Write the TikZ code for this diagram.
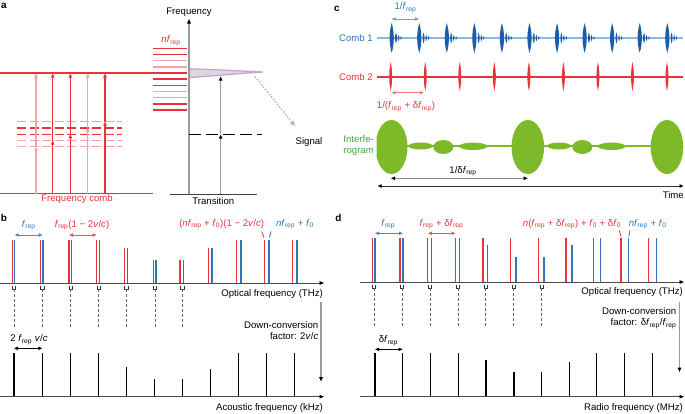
\documentclass[tikz,border=0pt]{standalone}
\usepackage{fontspec}
\setmainfont{Liberation Sans}
\usetikzlibrary{arrows.meta}
\definecolor{cred}{RGB}{232,51,60}
\definecolor{cpink}{RGB}{243,162,167}
\definecolor{cblue}{RGB}{47,117,188}
\definecolor{cdblue}{RGB}{28,93,168}
\definecolor{clblue}{RGB}{141,185,226}
\definecolor{cgreen}{RGB}{125,185,40}
\definecolor{ctgreen}{RGB}{61,170,58}
\definecolor{cgray}{RGB}{154,154,154}
\definecolor{cpurple}{RGB}{201,163,218}
\newcommand{\frep}{\textit{f}\textsubscript{rep}}
\newcommand{\fzero}{\textit{f}\textsubscript{0}}
\tikzset{
  lab/.style={inner sep=0pt, font=\fontsize{9.6}{10.8}\selectfont},
  plab/.style={inner sep=0pt, font=\fontsize{10}{12}\selectfont\bfseries},
  dtip/.style={{Triangle[length=4pt,width=3.2pt]}-{Triangle[length=4pt,width=3.2pt]}},
  axisln/.style={line width=0.9pt, draw=black!70, -{Triangle[length=4.5pt,width=3.6pt,color=black]}},
  spec/.style={line width=1.45pt},
  redln/.style={draw=cred, line width=1.4pt},
  pinkln/.style={draw=cpink, line width=1.4pt},
}
\begin{document}
\begin{tikzpicture}[x=1pt,y=-1pt]
\useasboundingbox (0,0) rectangle (685,413);
% ================= panel a =================
\foreach \y/\s in {121.7/pinkln,128/redln,134.3/redln,140.5/pinkln,146.7/pinkln}
  \draw[\s, dash pattern=on 9pt off 3.5pt] (17,\y) -- (122,\y);
\foreach \y/\s in {48.3/redln,54.5/redln,60.7/pinkln,66.9/pinkln,79.1/redln,85.3/redln,91.5/pinkln,97.7/pinkln,103.9/redln,110.1/redln}
  \draw[\s] (153,\y) -- (187,\y);
\draw[redln] (0,73) -- (187,73);
\draw[redln] (0,193.5) -- (153,193.5);
\foreach \x/\l/\s in {36/146.7/cpink,52.7/140.5/cred,70.3/134.3/cred,87.7/128/cpink,105/121.7/cred}{
  \draw[draw=\s, line width=1.2pt, -{Triangle[length=4pt,width=3.5pt,fill=\s]}] (\x,193.5) -- (\x,\l);
  \draw[draw=\s, line width=1.2pt, -{Triangle[length=4pt,width=3.5pt,fill=\s]}] (\x,\l) -- (\x,73.5);
}
\node[plab] (pa) at (4,6) {a};
\node[lab, text=cred] (fcomb) at (77,199.5) {Frequency comb};
\node[lab, text=cred] (nfrep) at (171,40.5) {\textit{nf}\textsubscript{rep}};
% signal lineshape
\draw[draw=cpurple, line width=1.3pt, fill=black!15] (189.5,68.8) .. controls (215,69.6) and (240,70.8) .. (263,72)
   .. controls (240,73.2) and (212,76.2) .. (189.5,77.5) -- cycle;
\draw[draw=cgray, line width=1.1pt, -{Triangle[length=4.5pt,width=3.6pt,color=black]}] (189,194) -- (189,19);
\draw[draw=black!75, line width=0.9pt] (170,194) -- (257,194);
\node[lab] (freqlab) at (189,12) {Frequency};
\node[lab] (translab) at (213.3,201.5) {Transition};
\draw[draw=black, line width=0.9pt, dash pattern=on 12pt off 5pt] (189,134.3) -- (262,134.3);
\draw[draw=cgray, line width=1.1pt, -{Triangle[length=4pt,width=3.4pt,color=black]}] (220.7,194) -- (220.7,134.6);
\draw[draw=cgray, line width=1.1pt, -{Triangle[length=4pt,width=3.4pt,color=black]}] (220.7,134.3) -- (220.7,76.5);
\coordinate (sigstart) at (255,76.5);
\node[lab] (signal) at (309,142) {Signal};
\draw[draw=cpurple, line width=1.3pt, dash pattern=on 1.6pt off 1.6pt, -{Triangle[length=5pt,width=4.5pt,fill=cpurple]}] (sigstart) -- (295,126);
% ================= panel c =================
\node[plab] (pc) at (337,9) {c};
\node[lab, text=cblue] (onefrep) at (405.5,7.5) {1/\frep};
\draw[draw=cblue!70, line width=1pt, dtip] (391.7,19) -- (419,19);
\node[lab, text=cblue, anchor=east] (comb1) at (373,38.5) {Comb 1};
\draw[draw=clblue, line width=1.2pt] (376.7,38) -- (683,38);
\foreach \i in {0,...,10}{
  \pgfmathsetmacro{\px}{391.7+27.56*\i}
  \fill[cdblue] (\px,23) .. controls (\px+2.8,33) and (\px+2.8,43) .. (\px,53) .. controls (\px-2.8,43) and (\px-2.8,33) .. cycle;
  \fill[cdblue] (\px+4.3,32.5) .. controls (\px+5.6,36) and (\px+5.6,40) .. (\px+4.3,43.5) .. controls (\px+3,40) and (\px+3,36) .. cycle;
  \fill[cdblue] (\px+6.9,34.5) .. controls (\px+8,36.5) and (\px+8,39.5) .. (\px+6.9,41.5) .. controls (\px+5.8,39.5) and (\px+5.8,36.5) .. cycle;
  \fill[cdblue] (\px+9.3,36) .. controls (\px+10.2,37) and (\px+10.2,39) .. (\px+9.3,40) .. controls (\px+8.4,39) and (\px+8.4,37) .. cycle;
}
\node[lab, text=cred, anchor=east] (comb2) at (373,77.3) {Comb 2};
\draw[draw=cred, line width=1.1pt] (376.7,77) -- (683,77);
\foreach \i in {0,...,8}{
  \pgfmathsetmacro{\px}{390.7+34.54*\i}
  \fill[cred] (\px,62) .. controls (\px+2,72) and (\px+2,81) .. (\px,91) .. controls (\px-2,81) and (\px-2,72) .. cycle;
}
\draw[draw=cred!65, line width=1pt, dtip] (391.5,92.7) -- (424,92.7);
\node[lab, text=cred] (onefdf) at (406,106.5) {1/(\frep\ + δ\frep)};
\node[lab, text=ctgreen, anchor=east, align=right] (interf) at (374,145.3) {Interfe-\\rogram};
\draw[draw=cgreen, line width=1.1pt] (377,146) -- (683,146);
\begin{scope}
  \clip (376.5,100) rectangle (690,200);
  \fill[cgreen] (391.5,147) ellipse [x radius=16, y radius=27];
\end{scope}
\fill[cgreen] (527.8,147) ellipse [x radius=16.3, y radius=27];
\fill[cgreen] (667,147) ellipse [x radius=16.3, y radius=27];
\fill[cgreen] (420.5,146) ellipse [x radius=12.2, y radius=3.5];
\fill[cgreen] (443.3,147) ellipse [x radius=10, y radius=7];
\fill[cgreen] (473.2,146.3) ellipse [x radius=14.2, y radius=3.7];
\fill[cgreen] (559,146) ellipse [x radius=11.7, y radius=3.5];
\fill[cgreen] (582.3,147) ellipse [x radius=10, y radius=7];
\fill[cgreen] (611.7,146.3) ellipse [x radius=14, y radius=3.7];
\draw[draw=black!45, line width=1.4pt, {Triangle[length=4pt,width=3.4pt,color=black]}-{Triangle[length=4pt,width=3.4pt,color=black]}] (391,178.3) -- (527.7,178.3);
\node[lab] (onedf) at (463,171.2) {1/δ\frep};
\draw[draw=black!80, line width=0.9pt, {Triangle[length=4pt,width=3.4pt,color=black]}-{Triangle[length=4pt,width=3.4pt,color=black]}] (377.7,186) -- (683.5,186);
\node[lab, anchor=east] (time) at (684,195.5) {Time};
% ================= panel b =================
\node[plab] (pb) at (4,218) {b};
\foreach \r/\b/\t [count=\k] in {12.7/14.7/240,40.7/42.9/240,69/71.4/240,96.7/99.3/240,124.3/127.4/248.3,153.3/156.2/260,180/183.6/260,208.3/212.2/248.3,236.7/240.8/240,264.3/268.8/240,292.3/297/240}{
  \draw[draw=cred, spec] (\r,283) -- (\r,\t);
  \draw[draw=cblue, spec] (\b,283) -- (\b,\t);
  \ifnum\k<8
    \pgfmathsetmacro{\mx}{(\r+\b)/2+0.4}
    \draw[draw=black!80, line width=0.6pt] (\mx-1.6,285.5) -- (\mx-1.6,289) -- (\mx+1.6,289) -- (\mx+1.6,285.5);
    \draw[draw=black!60, line width=0.8pt, dash pattern=on 3pt off 2pt] (\mx,289) -- (\mx,328.5);
  \fi
}
\draw[axisln] (0,283) -- (324,283);
\node[lab, anchor=east] (optb) at (323,294.5) {Optical frequency (THz)};
\node[lab, text=cblue] (frepb) at (28.7,225) {\frep};
\draw[draw=cblue!85, line width=1pt, dtip] (14.7,235) -- (42.7,235);
\node[lab, text=cred] (frepvc) at (82,225) {\frep(1 − 2\textit{v}/\textit{c})};
\draw[draw=cred!85, line width=1pt, dtip] (69,235) -- (96.7,235);
\node[lab, text=cred] (nfvc) at (221.7,224) {(\textit{nf}\textsubscript{rep} + \fzero)(1 − 2\textit{v}/\textit{c})};
\draw[draw=cred, line width=0.8pt] (261.7,231.5) -- (264,237.5);
\node[lab, text=cblue] (nfb) at (295,224) {\textit{nf}\textsubscript{rep} + \fzero};
\draw[draw=cblue, line width=0.8pt] (271.2,231.5) -- (269.3,237.5);
\foreach \x/\t in {14/352.7,42.3/352.7,70.7/352.7,98.3/352.7,126.7/367.3,154.3/379.3,182.7/379.3,210.7/369.3,238.7/352.7,266.7/352.7,294.7/352.7}
  \draw[draw=black, spec] (\x,396.7) -- (\x,\t);
\draw[axisln] (0,396.7) -- (324,396.7);
\node[lab, anchor=east] (acou) at (323,408.5) {Acoustic frequency (kHz)};
\node[lab] (twofrep) at (29,339.5) {2 \frep\ \textit{v}/\textit{c}};
\draw[draw=black, line width=0.9pt, dtip] (14,348.3) -- (42.3,348.3);
\draw[draw=cgray, line width=1.1pt, -{Triangle[length=4.5pt,width=3.6pt,color=black]}] (321,302) -- (321,381.5);
\node[lab, anchor=east, align=right] (downb) at (318.5,330.5) {Down-conversion\\factor: 2\textit{v}/\textit{c}};
% ================= panel d =================
\node[plab] (pd) at (338.5,218) {d};
\foreach \r/\b/\t [count=\k] in {372.3/375/238,400/403.2/238,427.7/431.4/238,455.3/459.5/238,483/487.7/245,510.7/515.9/256.7,538.3/544/257.3,565.9/572.2/245,593.5/600.4/238,621.1/628.5/238,648.7/656.7/238}{
  \draw[draw=cred, spec] (\r,282) -- (\r,237.7);
  \draw[draw=cblue, spec] (\b,282) -- (\b,\t);
  \ifnum\k<8
    \pgfmathsetmacro{\mx}{(\r+\b)/2+0.5}
    \draw[draw=black!80, line width=0.6pt] (\mx-1.6,284.5) -- (\mx-1.6,288) -- (\mx+1.6,288) -- (\mx+1.6,284.5);
    \draw[draw=black!60, line width=0.8pt, dash pattern=on 3pt off 2pt] (\mx,288) -- (\mx,327);
  \fi
}
\draw[axisln] (360,282) -- (684,282);
\node[lab, anchor=east] (optd) at (683,292.5) {Optical frequency (THz)};
\node[lab, text=cblue] (frepd) at (388.3,224) {\frep};
\draw[draw=cblue!85, line width=1pt, dtip] (375,233.3) -- (403,233.3);
\node[lab, text=cred] (frepdf) at (441.5,224) {\frep\ + δ\frep};
\draw[draw=cred!85, line width=1pt, dtip] (428,233.3) -- (455.5,233.3);
\node[lab, text=cred] (nfdf) at (572,224) {\textit{n}(\frep\ + δ\frep) + \fzero\ + δ\fzero};
\draw[draw=cred, line width=0.8pt] (619.3,230.5) -- (621,236.5);
\node[lab, text=cblue] (nfd) at (647.7,224) {\textit{nf}\textsubscript{rep} + \fzero};
\draw[draw=cblue, line width=0.8pt] (630,230.5) -- (628.7,236.5);
\foreach \x/\t in {375/352.7,402.7/352.7,430.7/352.7,458.3/352.7,486/360,514/371.7,541.7/371.7,569.3/362,596.7/352.7,624.3/352.7,652.3/352.7}
  \draw[draw=black, spec] (\x,396.7) -- (\x,\t);
\draw[axisln] (360,396.7) -- (684,396.7);
\node[lab, anchor=east] (radio) at (683,408.5) {Radio frequency (MHz)};
\node[lab] (dfrep) at (388.3,340.5) {δ\frep};
\draw[draw=black, line width=0.9pt, dtip] (375,349.3) -- (402.7,349.3);
\draw[draw=cgray, line width=1.1pt, -{Triangle[length=4.5pt,width=3.6pt,color=black]}] (679.5,302) -- (679.5,372);
\node[lab, anchor=east, align=right] (downd) at (676.5,318.3) {Down-conversion\\factor: δ\frep/\frep};
\end{tikzpicture}
\end{document}
